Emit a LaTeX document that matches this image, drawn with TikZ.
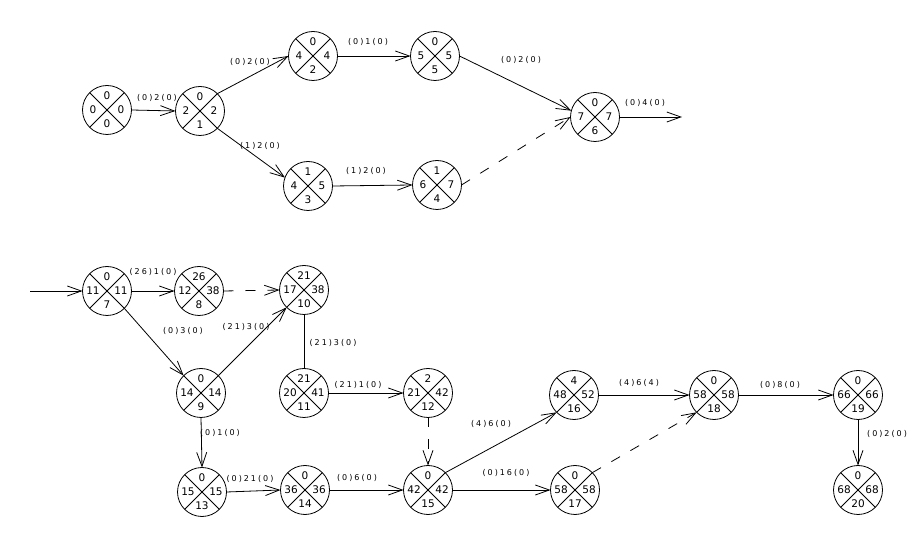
\documentclass[tikz,border=0pt]{standalone}
\usepackage[svgnames, x11names]{xcolor}
\usepackage{tikz}
\usepackage{fontspec}
\setmainfont{DejaVu Sans}
\newfontfamily\arclabfont[LetterSpace=25]{DejaVu Sans}
\usetikzlibrary{arrows.meta, positioning, calc}

\tikzset{
	event/.style = {circle, draw, minimum size = 49pt, inner sep = 0pt, outer sep = 0pt},
	evnum/.style = {font = \fontsize{10.5}{10.5}\selectfont, inner sep = 0pt},
	arclab/.style = {font = \arclabfont\fontsize{8}{8}\selectfont, inner sep = 0pt},
	actarrow/.style = {draw, -{Straight Barb[length = 14pt, width = 10pt]}},
	dummyarrow/.style = {actarrow, dash pattern = on 10pt off 12pt},
}

\newcommand{\eventnode}[6]{
	\node[event] (#1) at (#2) {};
	\draw (#1.north west) -- (#1.south east) (#1.north east) -- (#1.south west);
	\node[evnum] (#1-t) at ([yshift = 14pt]#1.center) {#3};
	\node[evnum] (#1-l) at ([xshift = -14pt]#1.center) {#4};
	\node[evnum] (#1-r) at ([xshift = 14pt]#1.center) {#5};
	\node[evnum] (#1-b) at ([yshift = -14pt]#1.center) {#6};
}

\begin{document}
\begin{tikzpicture}[x = 1pt, y = -1pt, line width = 0.8pt]
	\path [use as bounding box, draw = none] (0, 0) rectangle (911, 534);
	\eventnode{A}{107, 110}{0}{0}{0}{0}
	\eventnode{B}{200, 111}{0}{2}{2}{1}
	\eventnode{C}{313, 56}{0}{4}{4}{2}
	\eventnode{D}{308, 186}{1}{4}{5}{3}
	\eventnode{E}{435, 56}{0}{5}{5}{5}
	\eventnode{F}{437, 185}{1}{6}{7}{4}
	\eventnode{G}{595, 117}{0}{7}{7}{6}
	\coordinate (Gout) at (682, 117);
	\eventnode{H}{107, 291}{0}{11}{11}{7}
	\eventnode{I}{199, 291}{26}{12}{38}{8}
	\eventnode{J}{304, 290}{21}{17}{38}{10}
	\eventnode{K}{201, 393}{0}{14}{14}{9}
	\eventnode{L}{304, 393}{21}{20}{41}{11}
	\eventnode{M}{428, 393}{2}{21}{42}{12}
	\eventnode{N}{202, 492}{0}{15}{15}{13}
	\eventnode{O}{305, 490}{0}{36}{36}{14}
	\eventnode{P}{428, 490}{0}{42}{42}{15}
	\eventnode{Q}{574, 395}{4}{48}{52}{16}
	\eventnode{R}{575, 490}{0}{58}{58}{17}
	\eventnode{S}{714, 395}{0}{58}{58}{18}
	\eventnode{T}{858, 395}{0}{66}{66}{19}
	\eventnode{U}{858, 490}{0}{68}{68}{20}
	\coordinate (Hin) at (30, 291);
	
	\draw[actarrow] (A.east) -- (B.west);
	\draw[actarrow] (B.north east) -- (C.west);
	\draw[actarrow] (B.south east) -- (D.160);
	\draw[actarrow] (C.east) -- (E.west);
	\draw[actarrow] (D.east) -- (F.west);
	\draw[actarrow] (E.east) -- (G.165);
	\draw[dummyarrow] (F.east) -- (G.west);
	\draw[actarrow] (G.east) -- (Gout);
	
	\draw[actarrow] (Hin) -- (H.west);
	\draw[actarrow] (H.east) -- (I.west);
	\draw[dummyarrow] (I.east) -- (J.west);
	\draw[actarrow] (H.south east) -- (K.north west);
	\draw[actarrow] (K.north east) -- (J.south west);
	\draw (J.south) -- (L.north);
	\draw[actarrow] (L.east) -- (M.west);
	\draw[dummyarrow] (M.south) -- (P.north);
	\draw[actarrow] (K.south) -- (N.north);
	\draw[actarrow] (N.east) -- (O.west);
	\draw[actarrow] (O.east) -- (P.west);
	\draw[actarrow] (P.north east) -- (Q.south west);
	\draw[actarrow] (P.east) -- (R.west);
	\draw[dummyarrow] (R.north east) -- (S.south west);
	\draw[actarrow] (Q.east) -- (S.west);
	\draw[actarrow] (S.east) -- (T.west);
	\draw[actarrow] (T.south) -- (U.north);
	
	\node[arclab] (lAB) at (157, 98) {(0)2(0)};
	\node[arclab] (lBC) at (250, 62) {(0)2(0)};
	\node[arclab] (lBD) at (260, 146) {(1)2(0)};
	\node[arclab] (lCE) at (368, 42) {(0)1(0)};
	\node[arclab] (lDF) at (366, 171) {(1)2(0)};
	\node[arclab] (lEG) at (521, 60) {(0)2(0)};
	\node[arclab] (lGout) at (645, 103) {(0)4(0)};
	\node[arclab] (lHI) at (153, 272) {(26)1(0)};
	\node[arclab] (lHK) at (183, 331) {(0)3(0)};
	\node[arclab] (lKJ) at (246, 327) {(21)3(0)};
	\node[arclab] (lJL) at (333, 343) {(21)3(0)};
	\node[arclab] (lLM) at (358, 385) {(21)1(0)};
	\node[arclab] (lKN) at (220, 433) {(0)1(0)};
	\node[arclab] (lNO) at (250, 479) {(0)21(0)};
	\node[arclab] (lOP) at (357, 478) {(0)6(0)};
	\node[arclab] (lPQ) at (491, 424) {(4)6(0)};
	\node[arclab] (lPR) at (506, 473) {(0)16(0)};
	\node[arclab] (lQS) at (639, 383) {(4)6(4)};
	\node[arclab] (lST) at (780, 385) {(0)8(0)};
	\node[arclab] (lTU) at (887, 434) {(0)2(0)};
\end{tikzpicture}
\end{document}
